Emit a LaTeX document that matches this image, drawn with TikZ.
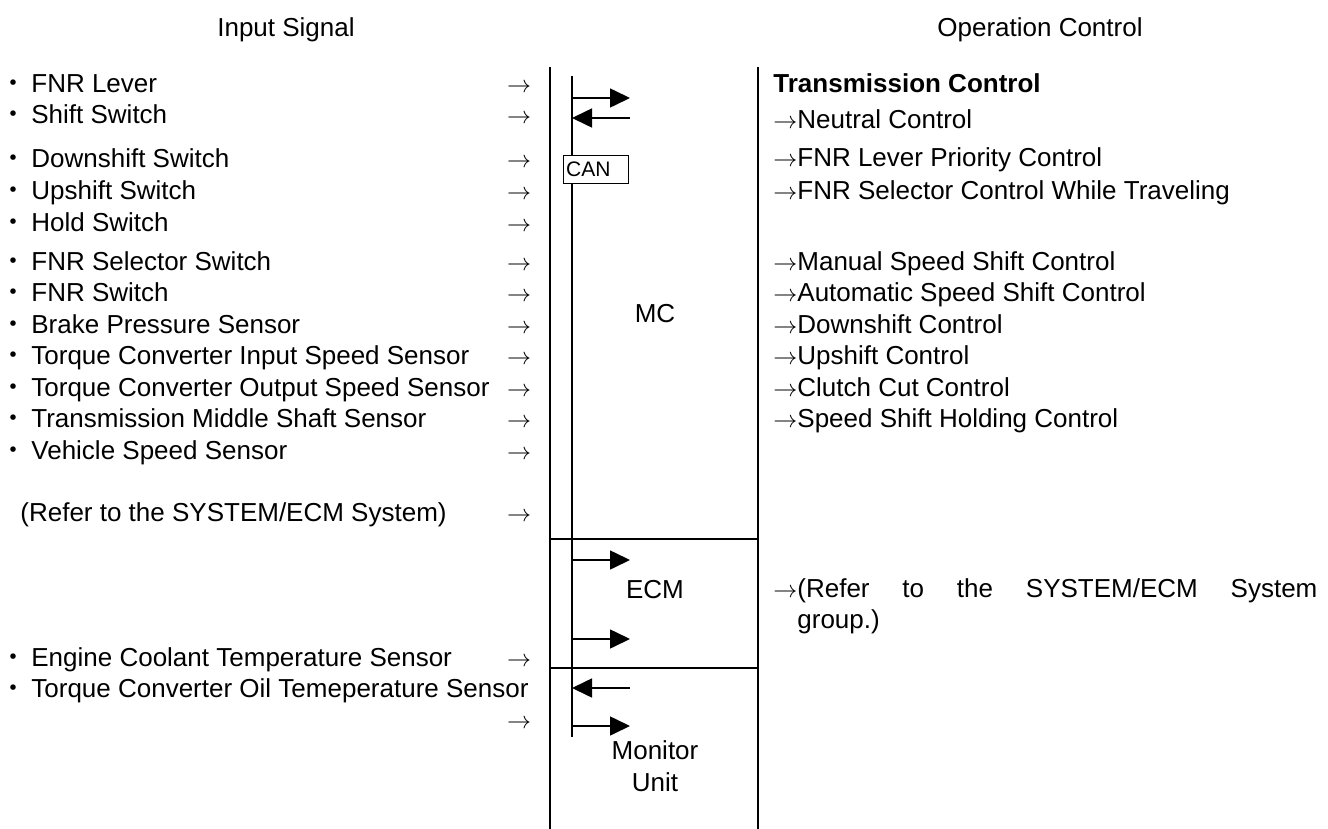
\documentclass[tikz,border=0pt]{standalone}
\usepackage{fontspec}
\setmainfont{Liberation Sans}
\newfontfamily\cjk{Noto Sans CJK JP}
\usetikzlibrary{arrows.meta}

\begin{document}
\begin{tikzpicture}[x=0.5pt, y=-0.5pt,
		every node/.style={inner sep=0pt, font=\fontsize{13}{16}\selectfont},
		item/.style={anchor=base west},
		tip/.style={anchor=base},
		frame/.style={line width=1pt},
		bus/.style={line width=0.8pt},
		sig/.style={line width=0.8pt, -{Triangle[length=10pt, width=9.5pt]}}]
		\useasboundingbox (0,0) rectangle (1328,829);
		% headings
		\node[tip] (hin) at (286,37) {Input Signal};
		\node[tip] (hout) at (1040,37) {Operation Control};
		% input signals
		\node[item] (in1) at (0,93) {{\cjk ・}\hspace{2.5pt}FNR Lever};
		\node[item] (in2) at (0,124) {{\cjk ・}\hspace{2.5pt}Shift Switch};
		\node[item] (in3) at (0,168) {{\cjk ・}\hspace{2.5pt}Downshift Switch};
		\node[item] (in4) at (0,199) {{\cjk ・}\hspace{2.5pt}Upshift Switch};
		\node[item] (in5) at (0,231) {{\cjk ・}\hspace{2.5pt}Hold Switch};
		\node[item] (in6) at (0,270) {{\cjk ・}\hspace{2.5pt}FNR Selector Switch};
		\node[item] (in7) at (0,301) {{\cjk ・}\hspace{2.5pt}FNR Switch};
		\node[item] (in8) at (0,333) {{\cjk ・}\hspace{2.5pt}Brake Pressure Sensor};
		\node[item] (in9) at (0,364) {{\cjk ・}\hspace{2.5pt}Torque Converter Input Speed Sensor};
		\node[item] (in10) at (0,396) {{\cjk ・}\hspace{2.5pt}Torque Converter Output Speed Sensor};
		\node[item] (in11) at (0,427) {{\cjk ・}\hspace{2.5pt}Transmission Middle Shaft Sensor};
		\node[item] (in12) at (0,459) {{\cjk ・}\hspace{2.5pt}Vehicle Speed Sensor};
		\node[item] (in13) at (20,521) {(Refer to the SYSTEM/ECM System)};
		\node[item] (in14) at (0,666) {{\cjk ・}\hspace{2.5pt}Engine Coolant Temperature Sensor};
		\node[item] (in15) at (0,697) {{\cjk ・}\hspace{2.5pt}Torque Converter Oil Temeperature Sensor};
		% arrows after the inputs
		\node[tip] (a1) at (519,93) {$\rightarrow$};
		\node[tip] (a2) at (519,124) {$\rightarrow$};
		\node[tip] (a3) at (519,168) {$\rightarrow$};
		\node[tip] (a4) at (519,199) {$\rightarrow$};
		\node[tip] (a5) at (519,231) {$\rightarrow$};
		\node[tip] (a6) at (519,270) {$\rightarrow$};
		\node[tip] (a7) at (519,301) {$\rightarrow$};
		\node[tip] (a8) at (519,333) {$\rightarrow$};
		\node[tip] (a9) at (519,364) {$\rightarrow$};
		\node[tip] (a10) at (519,396) {$\rightarrow$};
		\node[tip] (a11) at (519,427) {$\rightarrow$};
		\node[tip] (a12) at (519,459) {$\rightarrow$};
		\node[tip] (a13) at (519,521) {$\rightarrow$};
		\node[tip] (a14) at (519,666) {$\rightarrow$};
		\node[tip] (a15) at (519,728) {$\rightarrow$};
		% controller column
		\draw[frame] (550,67) -- (550,829);
		\draw[frame] (758,67) -- (758,829);
		\draw[frame] (550,539) -- (758,539);
		\draw[frame] (550,668) -- (758,668);
		\coordinate (bt) at (572,76);
		\coordinate (bb) at (572,737);
		\draw[bus] (bt) -- (bb);
		\node[draw, line width=0.7pt, fill=white, anchor=north west, inner sep=1pt,
			minimum width=32.5pt, minimum height=14pt, text width=30pt,
			font=\fontsize{10.5}{12}\selectfont] (can) at (563,155) {CAN};
		\coordinate (mc1) at (572,98);
		\coordinate (mc2) at (630,118);
		\coordinate (ec1) at (572,560);
		\coordinate (ec2) at (572,639);
		\coordinate (mu1) at (630,688);
		\coordinate (mu2) at (572,726);
		\draw[sig] (mc1) -- ++(58,0);
		\draw[sig] (mc2) -- ++(-58,0);
		\draw[sig] (ec1) -- ++(58,0);
		\draw[sig] (ec2) -- ++(58,0);
		\draw[sig] (mu1) -- ++(-58,0);
		\draw[sig] (mu2) -- ++(58,0);
		\node[tip] (mc) at (655,322) {MC};
		\node[tip] (ecm) at (655,598) {ECM};
		\node[tip] (mon) at (655,759) {Monitor};
		\node[tip] (unit) at (655,791) {Unit};
		% operation control
		\node[item] (tc) at (773,93) {\bfseries Transmission Control};
		\node[item] (oc1) at (773,128) {$\rightarrow$Neutral Control};
		\node[item] (oc2) at (773,167) {$\rightarrow$FNR Lever Priority Control};
		\node[item] (oc3) at (773,199) {$\rightarrow$FNR Selector Control While Traveling};
		\node[item] (oc4) at (773,270) {$\rightarrow$Manual Speed Shift Control};
		\node[item] (oc5) at (773,301) {$\rightarrow$Automatic Speed Shift Control};
		\node[item] (oc6) at (773,333) {$\rightarrow$Downshift Control};
		\node[item] (oc7) at (773,364) {$\rightarrow$Upshift Control};
		\node[item] (oc8) at (773,396) {$\rightarrow$Clutch Cut Control};
		\node[item] (oc9) at (773,427) {$\rightarrow$Speed Shift Holding Control};
		\node[item] (ecr1) at (773,597) {\hbox to 272pt{$\rightarrow$(Refer\hfill to\hfill the\hfill SYSTEM/ECM\hfill System}};
		\node[item] (ecr2) at (797,628) {group.)};
	\end{tikzpicture}
\end{document}
